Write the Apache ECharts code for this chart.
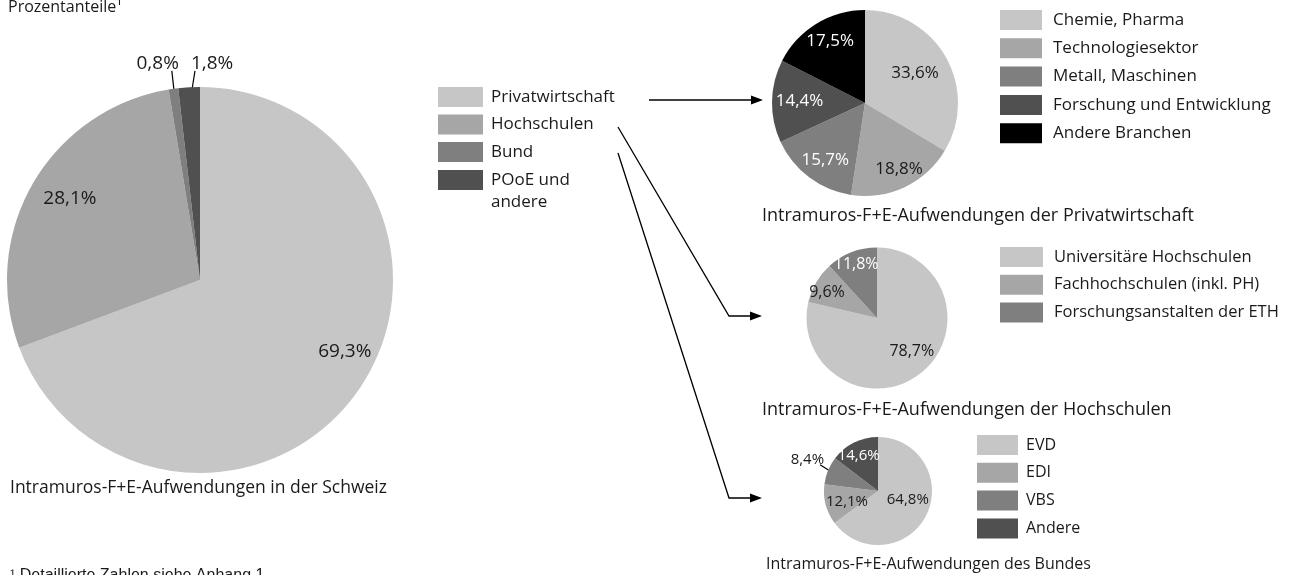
<!DOCTYPE html>
<html>
<head>
<meta charset="utf-8">
<script src="https://cdn.jsdelivr.net/npm/echarts@6/dist/echarts.min.js"></script>
<style>
  html, body { margin: 0; padding: 0; background: #fff; }
  #chart { width: 1298px; height: 575px; }
</style>
</head>
<body>
<div id="chart"></div>
<script>
// Anteile (Prozent)
const mainNames = ['Privatwirtschaft', 'Hochschulen', 'Bund', 'POoE und andere'];
const mainValues = [69.3, 28.1, 0.8, 1.8];

const privNames = ['Chemie, Pharma', 'Technologiesektor', 'Metall, Maschinen', 'Forschung und Entwicklung', 'Andere Branchen'];
const privValues = [33.6, 18.8, 15.7, 14.4, 17.5];

const hochNames = ['Universitäre Hochschulen', 'Fachhochschulen (inkl. PH)', 'Forschungsanstalten der ETH'];
const hochValues = [78.7, 9.6, 11.8];

const bundNames = ['EVD', 'EDI', 'VBS', 'Andere'];
const bundValues = [64.8, 12.1, 8.4, 14.6];

const grays = ['#c6c6c6', '#a6a6a6', '#7f7f7f', '#505050', '#000000'];
const FONT = '"Open Sans", "Noto Sans", sans-serif';

// Verschiebung der Beschriftungen gegenüber der Standardposition
const mainShift = [[63, 15], [-44, -32], [71, -31], [50, -10]];
const privShift = [[7, -5], [13, 21], [-10, 18], [-16, -1], [-9, -20]];
const hochShift = [[11, 3], [-17, -6], [-7, -18]];
const bundShift = [[3, -5], [-2, 3], [14, -6], [-6, -8]];

let chart;

function fmtPct(v) {
  return v.toFixed(1).replace('.', ',') + '%';
}

function buildData(names, values, outside) {
  return names.map((n, i) => {
    const c = grays[i];
    const dark = parseInt(c.slice(1, 3), 16) <= 0x7f;
    const isOut = outside.indexOf(i) >= 0;
    return {
      name: n,
      value: values[i],
      itemStyle: { color: c },
      label: isOut
        ? { position: 'outside', color: '#1a1a1a' }
        : { position: 'inside', color: dark ? '#ffffff' : '#1a1a1a' },
      labelLine: { show: isOut, length: 14, length2: 0, lineStyle: { color: '#000', width: 1.2 } }
    };
  });
}

// Bezugslinie: von der Unterkante der Beschriftung in das Segment hinein
function leaderPoints(p, dx, dy) {
  const lay = chart.getModel().getSeriesByIndex(p.seriesIndex).getData().getItemLayout(p.dataIndex);
  const mid = (lay.startAngle + lay.endAngle) / 2;
  const outX = lay.cx + lay.r * 1.06 * Math.cos(mid);
  const inX = lay.cx + lay.r * 0.92 * Math.cos(mid);
  const inY = lay.cy + lay.r * 0.92 * Math.sin(mid);
  const r = p.labelRect;
  const x0 = r.x + dx, y0 = r.y + dy + r.height - 2;
  const sx = Math.min(Math.max(outX, x0 + 4), x0 + r.width - 4);
  return [[sx, y0], [inX, inY]];
}

function pieSeries(names, values, center, radius, shift, outside, fontSize) {
  return {
    type: 'pie',
    center: center,
    radius: radius,
    startAngle: 90,
    clockwise: true,
    silent: true,
    animation: false,
    label: {
      show: true,
      fontFamily: FONT,
      fontSize: fontSize,
      formatter: p => fmtPct(p.value)
    },
    labelLayout: p => {
      const dx = shift[p.dataIndex][0], dy = shift[p.dataIndex][1];
      const res = { dx: dx, dy: dy };
      if (outside.indexOf(p.dataIndex) >= 0) {
        res.labelLinePoints = leaderPoints(p, dx, dy);
      }
      return res;
    },
    data: buildData(names, values, outside)
  };
}

function legendFor(names, left, top, w, h, gap, pad, fontSize) {
  return {
    orient: 'vertical',
    left: left,
    top: top,
    padding: 0,
    icon: 'rect',
    itemWidth: w,
    itemHeight: h,
    itemGap: gap,
    selectedMode: false,
    data: names,
    textStyle: { fontFamily: FONT, fontSize: fontSize, color: '#1a1a1a', padding: [0, 0, 0, pad] }
  };
}

chart = echarts.init(document.getElementById('chart'));

// letzter Eintrag zweizeilig, erste Zeile auf Höhe des Farbfelds
const lastLegend = legendFor([{ name: mainNames[3], textStyle: { lineHeight: 22 } }],
  438, 147, 45, 20, 0, 3, 17);
lastLegend.formatter = n => '\n' + n.replace('und ', 'und\n');

const caption = (size) => ({ fontFamily: FONT, fontSize: size, fontWeight: 'normal', color: '#1a1a1a' });

chart.setOption({
  title: [
    { text: 'Prozentanteile¹', left: 8, top: -1, padding: 0, textStyle: caption(16) },
    { text: 'Intramuros-F+E-Aufwendungen in der Schweiz', left: 10, top: 479, padding: 0, textStyle: caption(17.5) },
    { text: 'Intramuros-F+E-Aufwendungen der Privatwirtschaft', left: 762, top: 207, padding: 0, textStyle: caption(18) },
    { text: 'Intramuros-F+E-Aufwendungen der Hochschulen', left: 762, top: 401, padding: 0, textStyle: caption(18) },
    { text: 'Intramuros-F+E-Aufwendungen des Bundes', left: 766, top: 556, padding: 0, textStyle: caption(16) },
    { text: '¹ Detaillierte Zahlen siehe Anhang 1', left: 10, top: 568, padding: 0,
      textStyle: { fontFamily: '"Liberation Sans", Arial, sans-serif', fontSize: 16, fontWeight: 'normal', color: '#1a1a1a' } }
  ],
  legend: [
    legendFor(mainNames.slice(0, 3), 438, 87, 45, 20, 7.5, 3, 17),
    lastLegend,
    legendFor(privNames, 1000, 10, 42, 20, 8.3, 6, 17),
    legendFor(hochNames, 1000, 247, 43, 20, 7.7, 6, 16.5),
    legendFor(bundNames, 977, 435, 41, 20, 7.8, 3, 16)
  ],
  graphic: [
    { type: 'polyline', shape: { points: [[649, 100], [753, 100]] }, style: { stroke: '#000', lineWidth: 1.3, fill: null } },
    { type: 'polygon', shape: { points: [[763, 100], [751, 95.5], [751, 104.5]] }, style: { fill: '#000' } },
    { type: 'polyline', shape: { points: [[618, 127], [729, 316], [752, 316]] }, style: { stroke: '#000', lineWidth: 1.3, fill: null } },
    { type: 'polygon', shape: { points: [[762, 316], [750, 311.5], [750, 320.5]] }, style: { fill: '#000' } },
    { type: 'polyline', shape: { points: [[618, 153], [729, 498], [752, 498]] }, style: { stroke: '#000', lineWidth: 1.3, fill: null } },
    { type: 'polygon', shape: { points: [[762, 498], [750, 493.5], [750, 502.5]] }, style: { fill: '#000' } }
  ],
  series: [
    pieSeries(mainNames, mainValues, [200, 280], 193, mainShift, [2, 3], 19),
    pieSeries(privNames, privValues, [865, 103], 93, privShift, [], 17),
    pieSeries(hochNames, hochValues, [877, 318], 70.5, hochShift, [], 16),
    pieSeries(bundNames, bundValues, [878, 491], 54, bundShift, [2], 15)
  ]
});
</script>
</body>
</html>
